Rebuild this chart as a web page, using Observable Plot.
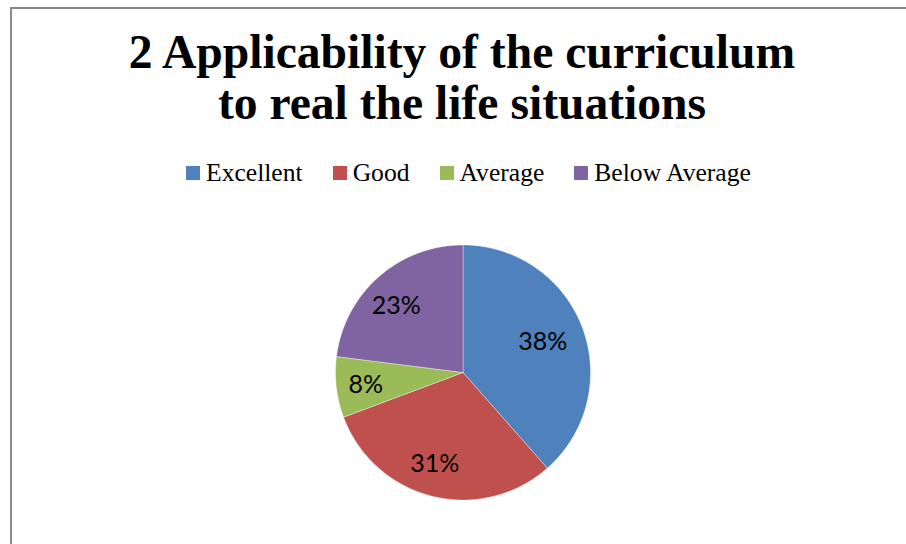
<!DOCTYPE html>
<html>
<head>
<meta charset="utf-8">
<script src="https://cdn.jsdelivr.net/npm/d3@7"></script>
<script src="https://cdn.jsdelivr.net/npm/@observablehq/plot@0.6"></script>
<style>
  html, body { margin: 0; padding: 0; background: #fff; }
  #wrap { position: relative; width: 906px; height: 544px; overflow: hidden; background: #fff; }
  #frame { position: absolute; left: 10px; top: 7px; width: 920px; height: 560px;
           border-left: 2px solid #8a8a8a; border-top: 2px solid #8a8a8a; }
  #title { position: absolute; left: 0; top: 27px; width: 924px; margin: 0;
           text-align: center; font-family: "Liberation Serif", serif; font-weight: bold;
           font-size: 47.6px; line-height: 51px; color: #000; }
  #legend { position: absolute; left: 186px; top: 156px; width: 720px; }
  .lg-swatches { font-family: "Liberation Serif", serif !important; font-size: 25.6px !important; color: #000; margin: 0 !important; display: flex; flex-wrap: nowrap; }
  .lg-swatch { margin-right: 30px !important; display: inline-flex; align-items: center; }
  .lg-swatch > svg { margin-right: 6px !important; }
  #chart { position: absolute; left: 0; top: 200px; }
</style>
</head>
<body>
<div id="wrap">
  <div id="frame"></div>
  <div id="title">2 Applicability of the curriculum<br>to real the life situations</div>
  <div id="legend"></div>
  <div id="chart"></div>
</div>
<script>
const categories = ["Excellent", "Good", "Average", "Below Average"];
const values = [38.5, 30.8, 7.7, 23.0];
const valueLabels = ["38%", "31%", "8%", "23%"];
const colors = ["#4F81BD", "#C0504D", "#9BBB59", "#8064A2"];

const data = categories.map((c, i) => ({category: c, value: values[i], label: valueLabels[i]}));
const arcs = d3.pie().sort(null).value(d => d.value)(data);

// polygon outline for each slice (center + sampled arc)
const points = [];
for (const a of arcs) {
  const key = a.data.category;
  points.push({key, x: 0, y: 0});
  const n = Math.max(2, Math.ceil((a.endAngle - a.startAngle) / 0.01));
  for (let i = 0; i <= n; i++) {
    const t = a.startAngle + (a.endAngle - a.startAngle) * i / n;
    points.push({key, x: Math.sin(t), y: Math.cos(t)});
  }
  points.push({key, x: 0, y: 0});
}

const labelR = 0.72;
const colorScale = {domain: categories, range: colors};

const chart = Plot.plot({
  width: 906,
  height: 344,
  marginLeft: 335,
  marginRight: 316,
  marginTop: 44.5,
  marginBottom: 44.5,
  x: {domain: [-1, 1], axis: null},
  y: {domain: [-1, 1], axis: null},
  color: colorScale,
  style: {background: "transparent", overflow: "visible"},
  marks: [
    Plot.line(points, {x: "x", y: "y", z: "key", fill: "key", stroke: "white", strokeWidth: 0.6, strokeOpacity: 0.6}),
    Plot.text(arcs, {
      x: d => labelR * Math.sin((d.startAngle + d.endAngle) / 2),
      y: d => labelR * Math.cos((d.startAngle + d.endAngle) / 2),
      text: d => d.data.label,
      fontSize: 25,
      fontFamily: "Lato, 'Open Sans', sans-serif",
      fill: "#000",
      dx: -6,
      dy: 2,
      lineAnchor: "middle"
    })
  ]
});
document.getElementById("chart").appendChild(chart);

const legend = Plot.legend({
  color: {type: "ordinal", ...colorScale},
  legend: "swatches",
  swatchSize: 14,
  className: "lg"
});
document.getElementById("legend").appendChild(legend);
</script>
</body>
</html>
